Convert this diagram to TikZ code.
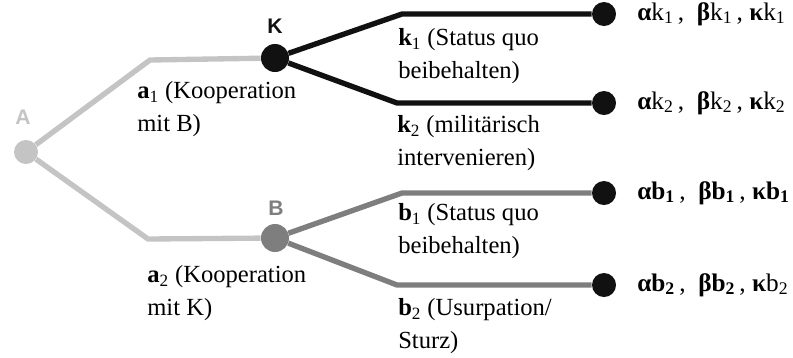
\documentclass[tikz,border=0pt]{standalone}
\usepackage{fontspec}
\setmainfont{Liberation Serif}
\newfontfamily\spielerfont{Liberation Sans}
\usepackage{tikz}

\definecolor{hellgrau}{HTML}{C4C4C4}
\definecolor{mittelgrau}{HTML}{7E7E7E}
\definecolor{fastschwarz}{HTML}{111111}

\tikzset{
  ast/.style={line width=3.8pt, line join=round},
  spieler/.style={circle, inner sep=0pt, minimum size=#1},
  blatt/.style={circle, fill=fastschwarz, inner sep=0pt, minimum size=0.6cm},
  spielername/.style={font=\spielerfont\bfseries\fontsize{15}{17}\selectfont},
  zug/.style={anchor=north west, inner sep=0pt, align=left,
    font=\fontsize{17.5}{23.5}\selectfont},
  nutzen/.style={anchor=west, inner sep=0pt, font=\fontsize{18}{20}\selectfont}
}

\begin{document}
\begin{tikzpicture}[x=0.025cm, y=-0.025cm]
 \useasboundingbox (0,0) rectangle (793,357);

	% Spieler
 \node[spieler=0.6cm, fill=hellgrau] (A) at (26,152) {};
 \node[spieler=0.7cm, fill=fastschwarz] (K) at (275,58) {};
 \node[spieler=0.7cm, fill=mittelgrau] (B) at (275,238) {};
 \node[spielername, text=hellgrau] (nA) at (23,117) {A};
 \node[spielername, text=fastschwarz] (nK) at (275,26) {K};
 \node[spielername, text=mittelgrau] (nB) at (276,208) {B};

	% Endknoten
 \node[blatt] (k1) at (604,14) {};
 \node[blatt] (k2) at (604,103) {};
 \node[blatt] (b1) at (604,193) {};
 \node[blatt] (b2) at (604,285) {};

	% Knickpunkte
 \coordinate (ca1) at (150,60);
 \coordinate (ca2) at (148,239);
 \coordinate (ck1) at (402,14);
 \coordinate (ck2) at (397,103);
 \coordinate (cb1) at (402,193);
 \coordinate (cb2) at (397,285);

	% Aeste
 \draw[ast, hellgrau] (A) -- (ca1) -- (K);
 \draw[ast, hellgrau] (A) -- (ca2) -- (B);
 \draw[ast, fastschwarz] (K) -- (ck1) -- (k1);
 \draw[ast, fastschwarz] (K) -- (ck2) -- (k2);
 \draw[ast, mittelgrau] (B) -- (cb1) -- (b1);
 \draw[ast, mittelgrau] (B) -- (cb2) -- (b2);

	% Zuege
 \node[zug] (ta1) at (137,81) {\textbf{a}\textsubscript{1} (Kooperation\\mit B)};
 \node[zug] (ta2) at (147,265) {\textbf{a}\textsubscript{2} (Kooperation\\mit K)};
 \node[zug] (tk1) at (398,28) {\textbf{k}\textsubscript{1} (Status quo\\beibehalten)};
 \node[zug] (tk2) at (397,115) {\textbf{k}\textsubscript{2} (militärisch\\intervenieren)};
 \node[zug] (tb1) at (398,203) {\textbf{b}\textsubscript{1} (Status quo\\beibehalten)};
 \node[zug] (tb2) at (398,298) {\textbf{b}\textsubscript{2} (Usurpation/\\Sturz)};

	% Auszahlungen
 \node[nutzen] (uk1) at (637,14) {\textbf{α}k\textsubscript{1}\,,\ \ \textbf{β}k\textsubscript{1}\,, \textbf{κ}k\textsubscript{1}};
 \node[nutzen] (uk2) at (637,103) {\textbf{α}k\textsubscript{2}\,,\ \ \textbf{β}k\textsubscript{2}\,, \textbf{κ}k\textsubscript{2}};
 \node[nutzen] (ub1) at (637,193) {\textbf{αb\textsubscript{1}}\,,\ \ \textbf{βb\textsubscript{1}}\,, \textbf{κb\textsubscript{1}}};
 \node[nutzen] (ub2) at (637,285) {\textbf{αb\textsubscript{2}}\,,\ \ \textbf{βb\textsubscript{2}}\,, \textbf{κ}b\textsubscript{2}};

\end{tikzpicture}
\end{document}
